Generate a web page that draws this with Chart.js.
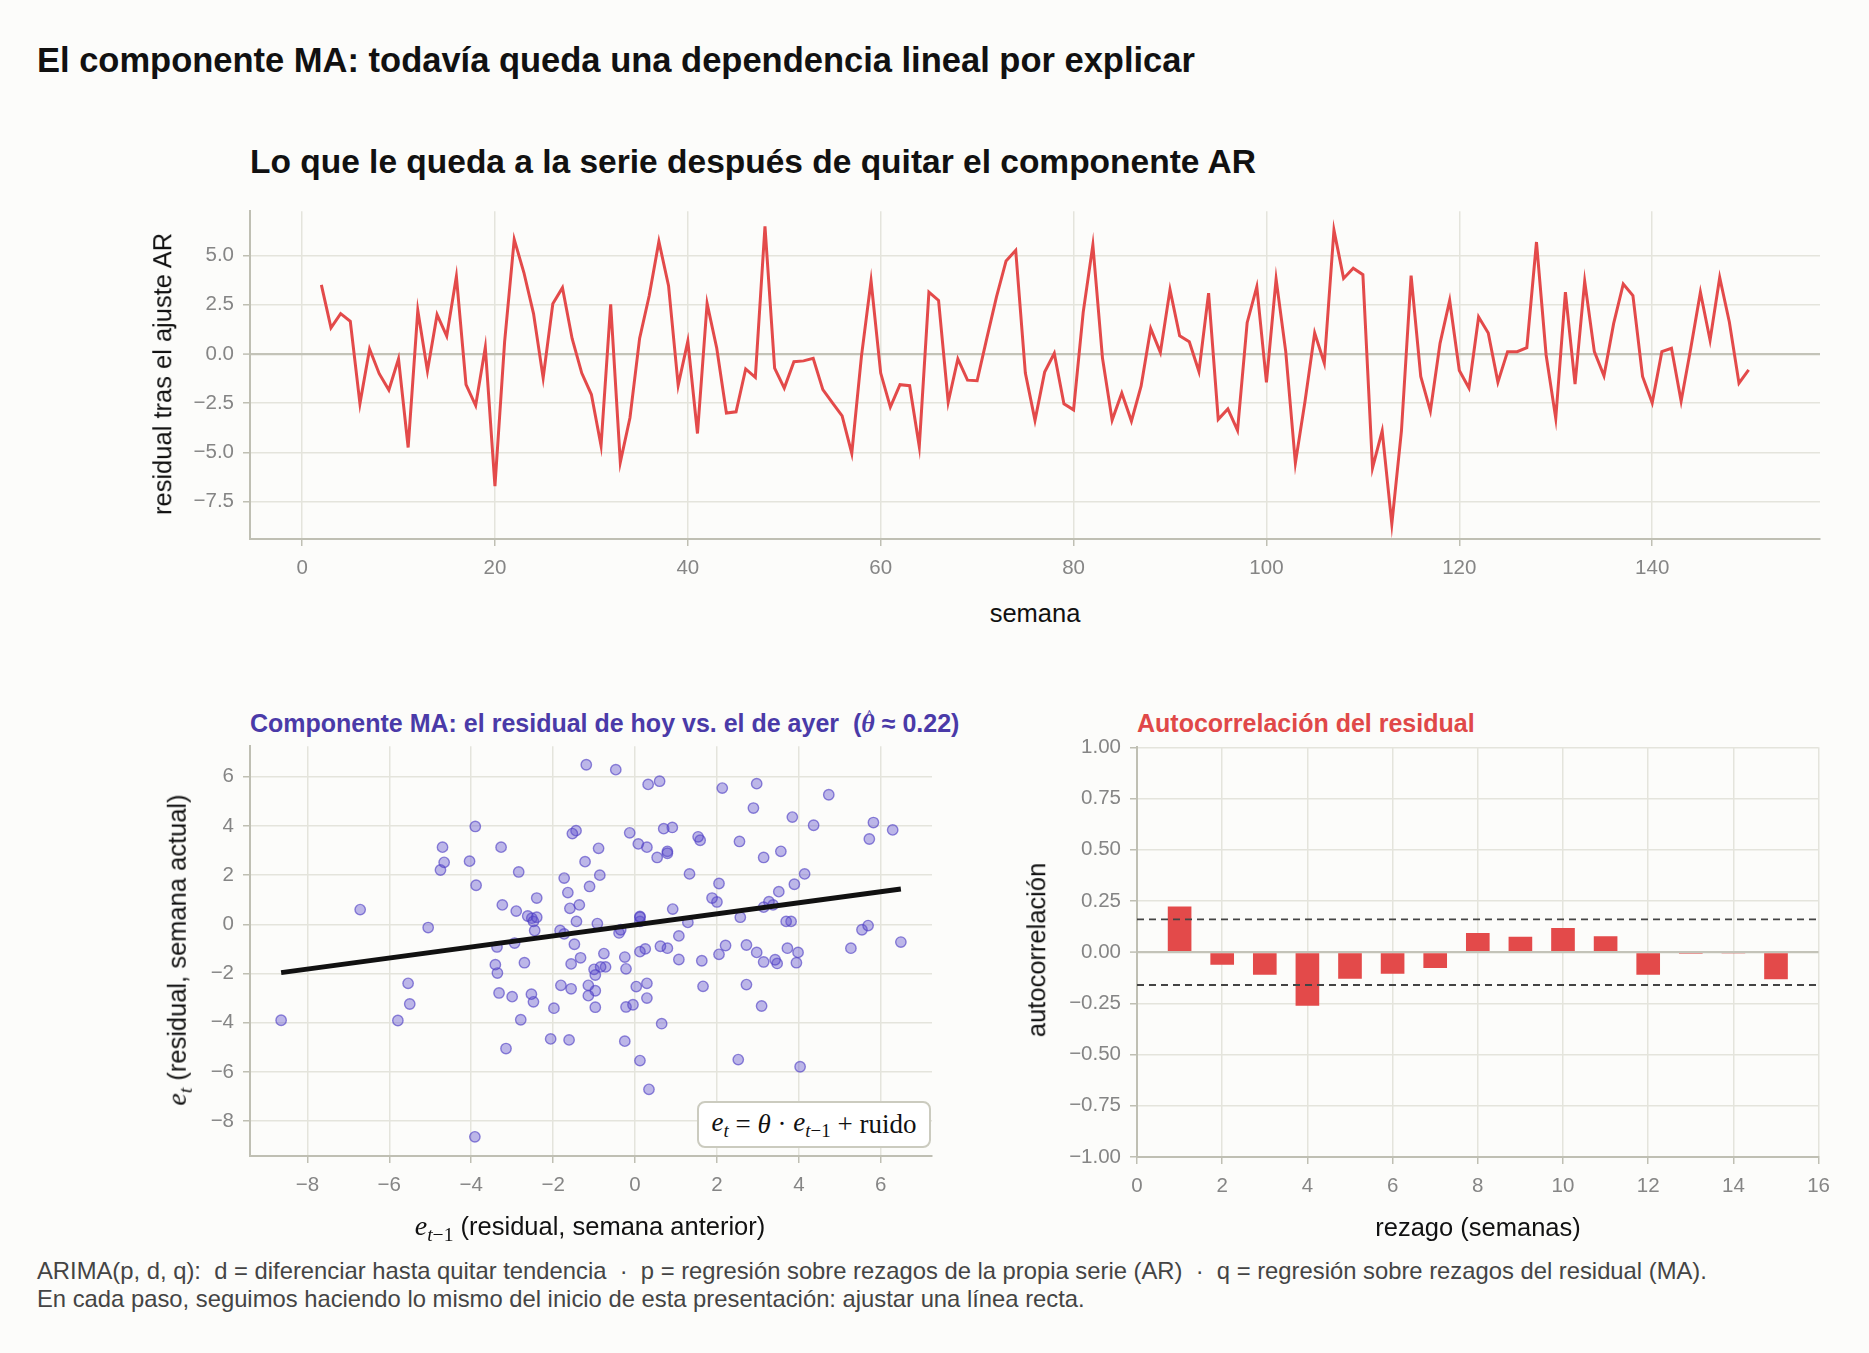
<!DOCTYPE html>
<html lang="es">
<head>
<meta charset="utf-8">
<title>El componente MA</title>
<script src="https://cdn.jsdelivr.net/npm/chart.js@4.4.1/dist/chart.umd.min.js"></script>
<style>
  html, body { margin: 0; padding: 0; }
  body {
    width: 1869px; height: 1353px; position: relative; overflow: hidden;
    background: #fcfcfa; color: #111;
    font-family: "Liberation Sans", Arial, sans-serif;
  }
  canvas { position: absolute; }
  .abs { position: absolute; white-space: nowrap; line-height: 1; }
  .title { font-weight: bold; }
  .panel-title { font-weight: bold; font-size: 25px; }
  .axis-title { font-size: 25.5px; transform: translate(-50%, -50%); }
  .axis-title.rot { transform: translate(-50%, -50%) rotate(-90deg); }
  .math { font-family: "Liberation Serif", "DejaVu Serif", serif; font-style: italic; font-size: 28px; }
  .math sub { font-size: 0.7em; vertical-align: -0.3em; }
  .up { font-style: normal; }
  .hat { position: relative; display: inline-block; }
  .hat::after {
    content: "^"; position: absolute; left: 0.18em; top: -0.22em;
    font-style: normal; font-weight: normal; font-size: 0.75em;
  }
  #formula {
    left: 697px; top: 1101px; width: 234px; height: 47px; box-sizing: border-box;
    border: 2px solid #cbcbbf; border-radius: 8px; background: #fff;
    display: flex; align-items: center; justify-content: center;
    font-family: "Liberation Serif", "DejaVu Serif", serif; font-size: 27px;
  }
  #formula .math { font-size: 27px; }
  #footer { left: 37px; top: 1257px; font-size: 23.8px; line-height: 27.5px; color: #444; white-space: pre; }
</style>
</head>
<body>

<div class="abs title" style="left:37px; top:43px; font-size:34.5px;">El componente MA: todavía queda una dependencia lineal por explicar</div>
<div class="abs title" style="left:250px; top:145px; font-size:33.5px;">Lo que le queda a la serie después de quitar el componente AR</div>

<canvas id="serieChart" width="1690" height="400" style="left:150px; top:190px;"></canvas>
<div class="abs axis-title rot" style="left:163px; top:374px;">residual tras el ajuste AR</div>
<div class="abs axis-title" style="left:1035px; top:614px;">semana</div>

<div class="abs panel-title" style="left:250px; top:711px; color:#4a3aa8;">Componente MA: el residual de hoy vs. el de ayer&nbsp; (<span class="math hat" style="font-size:26px;">θ</span> ≈ 0.22)</div>
<canvas id="scatterChart" width="800" height="490" style="left:150px; top:725px;"></canvas>
<div class="abs axis-title rot" style="left:179px; top:950px;"><span class="math">e<sub>t</sub></span> (residual, semana actual)</div>
<div class="abs axis-title" style="left:590px; top:1228px;"><span class="math">e<sub>t<span class="up">−1</span></sub></span> (residual, semana anterior)</div>
<div class="abs" id="formula"><span class="math">e<sub>t</sub></span>&nbsp;=&nbsp;<span class="math">θ</span>&nbsp;·&nbsp;<span class="math">e<sub>t<span class="up">−1</span></sub></span>&nbsp;+&nbsp;ruido</div>

<div class="abs panel-title" style="left:1137px; top:711px; color:#e04848;">Autocorrelación del residual</div>
<canvas id="acfChart" width="803" height="489" style="left:1037px; top:726px;"></canvas>
<div class="abs axis-title rot" style="left:1037px; top:950px;">autocorrelación</div>
<div class="abs axis-title" style="left:1478px; top:1228px;">rezago (semanas)</div>

<div class="abs" id="footer">ARIMA(p, d, q):  d = diferenciar hasta quitar tendencia  ·  p = regresión sobre rezagos de la propia serie (AR)  ·  q = regresión sobre rezagos del residual (MA).
En cada paso, seguimos haciendo lo mismo del inicio de esta presentación: ajustar una línea recta.</div>

<script>
// residual tras el ajuste AR, semanas 2..150
const firstWeek = 2;
const resid = [
  3.51, 1.33, 2.05, 1.66, -2.52, 0.25, -1.0, -1.83, -0.25, -4.75,
  2.21, -0.86, 2.0, 0.91, 3.94, -1.56, -2.62, 0.34, -6.71, 0.6,
  5.82, 4.14, 2.05, -1.22, 2.55, 3.37, 0.79, -0.97, -2.06, -4.66,
  2.52, -5.5, -3.24, 0.79, 2.97, 5.72, 3.47, -1.59, 0.65, -4.04,
  2.57, 0.29, -3.0, -2.94, -0.76, -1.19, 6.49, -0.72, -1.73, -0.39,
  -0.35, -0.22, -1.81, -2.48, -3.15, -5.05, -0.13, 3.72, -0.97, -2.7,
  -1.56, -1.61, -4.7, 3.14, 2.72, -2.45, -0.25, -1.33, -1.36, 0.79,
  2.89, 4.73, 5.27, -0.97, -3.37, -0.92, 0.03, -2.53, -2.84, 2.13,
  5.54, -0.22, -3.36, -1.98, -3.41, -1.64, 1.29, 0.08, 3.27, 0.92,
  0.62, -0.89, 3.09, -3.32, -2.79, -3.88, 1.59, 3.42, -1.44, 3.81,
  0.12, -5.54, -2.4, 1.07, -0.47, 6.29, 3.84, 4.36, 4.03, -5.79,
  -3.91, -8.64, -3.9, 3.98, -1.14, -2.9, 0.54, 2.72, -0.84, -1.73,
  1.88, 1.07, -1.43, 0.12, 0.12, 0.32, 5.69, -0.05, -3.27, 3.14,
  -1.53, 3.69, 0.12, -1.11, 1.54, 3.56, 2.97, -1.14, -2.48, 0.12,
  0.29, -2.4, 0.29, 3.14, 0.7, 3.89, 1.63, -1.48, -0.81
];
const weeks = resid.map((_, i) => firstWeek + i);

// recta ajustada e_t = theta * e_{t-1}
const theta = 0.225;
const fitIntercept = -0.02;

// autocorrelación por rezago
const lags = [1, 2, 3, 4, 5, 6, 7, 8, 9, 10, 11, 12, 13, 14, 15];
const acf = [0.223, -0.062, -0.11, -0.262, -0.13, -0.105, -0.077, 0.093, 0.075, 0.118, 0.078, -0.11, -0.008, -0.004, -0.132];
const acfBound = 0.16;

// ticks
const serieXTicks = [0, 20, 40, 60, 80, 100, 120, 140];
const serieYTicks = [-7.5, -5.0, -2.5, 0.0, 2.5, 5.0];
const scatterXTicks = [-8, -6, -4, -2, 0, 2, 4, 6];
const scatterYTicks = [-8, -6, -4, -2, 0, 2, 4, 6];
const acfXTicks = [0, 2, 4, 6, 8, 10, 12, 14, 16];
const acfYTicks = [-1.0, -0.75, -0.5, -0.25, 0.0, 0.25, 0.5, 0.75, 1.0];

const red = '#e34a4a';
const gridColor = '#e4e4dc';
const spineColor = '#bfbfb3';
const zeroColor = '#c3c3b8';

Chart.defaults.font.family = '"Liberation Sans", Arial, sans-serif';
Chart.defaults.font.size = 20.5;
Chart.defaults.color = '#858585';

const fmt = (v, d) => v.toFixed(d).replace('-', '\u2212');

function axis(ticks, decimals, opts) {
  return Object.assign({
    type: 'linear',
    offset: false,
    afterBuildTicks: (a) => { a.ticks = ticks.map(v => ({ value: v })); },
    ticks: { callback: (v) => fmt(v, decimals), padding: 9, maxRotation: 0 },
    grid: { offset: false, color: gridColor, lineWidth: 1.5, tickColor: spineColor, tickWidth: 1.5, tickLength: 7 },
    border: { color: spineColor, width: 2 }
  }, opts);
}

const fixWidth = (w) => (a) => { a.width = w; };
const fixHeight = (h) => (a) => { a.height = h; };
const zeroLine = (y) => {
  y.grid.color = (c) => (c.tick && c.tick.value === 0 ? zeroColor : gridColor);
  y.grid.lineWidth = (c) => (c.tick && c.tick.value === 0 ? 2.2 : 1.5);
};

const common = {
  responsive: false,
  animation: false,
  events: [],
  plugins: { legend: { display: false }, tooltip: { enabled: false } }
};

// serie de residuales
const serieX = axis(serieXTicks, 0, { min: -5.4, max: 157.4, afterFit: fixHeight(51) });
serieX.ticks.padding = 10;
const serieY = axis(serieYTicks, 1, { min: -9.4, max: 7.25, afterFit: fixWidth(100) });
zeroLine(serieY);

new Chart(document.getElementById('serieChart'), {
  type: 'line',
  data: {
    datasets: [{
      data: weeks.map((w, i) => ({ x: w, y: resid[i] })),
      borderColor: red,
      borderWidth: 3,
      pointRadius: 0,
      tension: 0
    }]
  },
  options: Object.assign({}, common, {
    layout: { padding: { top: 18, right: 20, left: 0, bottom: 0 } },
    scales: { x: serieX, y: serieY }
  })
});

// e_t frente a e_{t-1}
const pairs = resid.slice(1).map((v, i) => ({ x: resid[i], y: v }));
const lagX = pairs.map(p => p.x);
const xLo = Math.min(...lagX);
const xHi = Math.max(...lagX);

const scX = axis(scatterXTicks, 0, { min: -9.4, max: 7.25, afterFit: fixHeight(59) });
scX.ticks.padding = 10;
const scY = axis(scatterYTicks, 0, { min: -9.42, max: 7.24, afterFit: fixWidth(100) });

new Chart(document.getElementById('scatterChart'), {
  type: 'scatter',
  data: {
    datasets: [{
      type: 'line',
      data: [{ x: xLo, y: fitIntercept + theta * xLo }, { x: xHi, y: fitIntercept + theta * xHi }],
      borderColor: '#111',
      borderWidth: 5,
      pointRadius: 0,
      order: 0
    }, {
      data: pairs,
      pointRadius: 5.2,
      borderWidth: 1.4,
      backgroundColor: 'rgba(92, 78, 205, 0.40)',
      borderColor: 'rgba(78, 62, 195, 0.62)',
      order: 1
    }]
  },
  options: Object.assign({}, common, {
    layout: { padding: { top: 18, right: 18, left: 0, bottom: 0 } },
    scales: { x: scX, y: scY }
  })
});

// ACF
const acfX = axis(acfXTicks, 0, { min: 0, max: 16, afterFit: fixHeight(58) });
acfX.ticks.padding = 10;
const acfY = axis(acfYTicks, 2, { min: -1, max: 1, afterFit: fixWidth(100) });
zeroLine(acfY);

const band = (y) => ({
  type: 'line',
  data: [{ x: 0, y: y }, { x: 16, y: y }],
  borderColor: '#444',
  borderWidth: 1.9,
  borderDash: [7, 5],
  pointRadius: 0,
  order: 0
});

new Chart(document.getElementById('acfChart'), {
  type: 'bar',
  data: {
    datasets: [{
      data: lags.map((l, i) => ({ x: l, y: acf[i] })),
      backgroundColor: red,
      barPercentage: 0.555,
      categoryPercentage: 1,
      order: 1
    }, band(acfBound), band(-acfBound)]
  },
  options: Object.assign({}, common, {
    layout: { padding: { top: 18, right: 20, left: 0, bottom: 0 } },
    scales: { x: acfX, y: acfY }
  })
});
</script>
</body>
</html>
